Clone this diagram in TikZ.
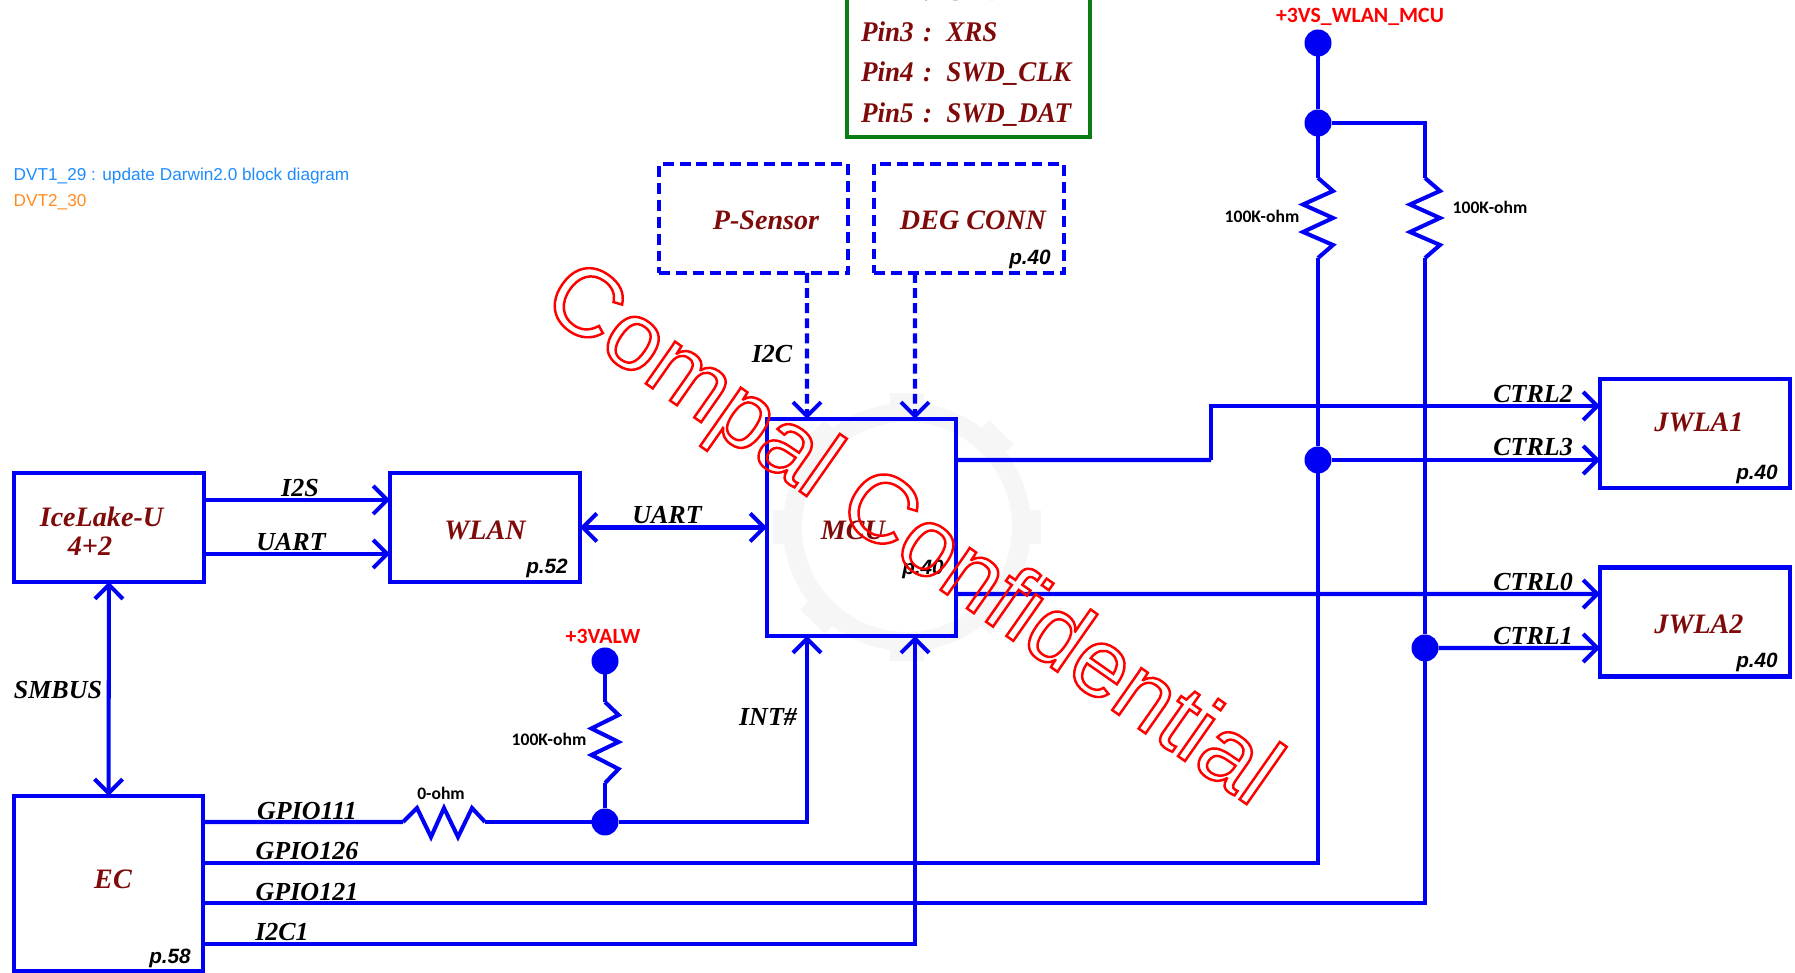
\documentclass[tikz,border=0pt]{standalone}
\usepackage{fontspec}
\usepackage{xcolor}
\usepackage{tikz}
\usetikzlibrary{arrows.meta,positioning,calc}
\setmainfont{Liberation Serif}
\setsansfont{Liberation Sans}
\newfontfamily\ohmfont{Carlito}
\newfontfamily\pinfont{Liberation Serif}[FakeStretch=0.95]
\definecolor{wireblue}{HTML}{0000F5}
\definecolor{namered}{HTML}{7F0A0A}
\definecolor{pingreen}{HTML}{0A7D14}
\definecolor{gearwash}{HTML}{F6F6F6}
\definecolor{noteblue}{HTML}{1E8CFF}
\definecolor{noteorange}{HTML}{FF8C1E}
\newcommand{\hollowtext}[1]{\special{pdf:literal direct q 1 Tr 0.7 w 1 0 0 RG}#1\special{pdf:literal direct Q}}

\begin{document}
\begin{tikzpicture}[
  block/.style={draw=wireblue, line width=1.15pt, inner sep=0pt, outer sep=0pt},
  dashblock/.style={block, dash pattern=on 3.1pt off 1.7pt},
  blockname/.style={font=\rmfamily\bfseries\itshape\fontsize{8}{10}\selectfont, text=namered},
  siglabel/.style={font=\rmfamily\bfseries\itshape\fontsize{7.4}{9}\selectfont, text=black},
  pagetag/.style={font=\sffamily\bfseries\itshape\fontsize{5.9}{7}\selectfont, text=black},
  ohmlabel/.style={font=\ohmfont\bfseries\fontsize{5}{6}\selectfont, text=black},
  powerlabel/.style={font=\ohmfont\bfseries\fontsize{6.2}{7}\selectfont, text=red},
  notelabel/.style={font=\sffamily\fontsize{4.9}{6}\selectfont, anchor=west, inner sep=0pt},
  dotnode/.style={circle, fill=wireblue, minimum size=0.27cm, inner sep=0pt, outer sep=0pt},
  wire/.style={draw=wireblue, line width=1.15pt},
  sigarrow/.style={wire, -{Straight Barb[length=1.4mm,width=2.8mm]}},
  sigboth/.style={wire, {Straight Barb[length=1.4mm,width=2.8mm]}-{Straight Barb[length=1.4mm,width=2.8mm]}},
  dasharrow/.style={sigarrow, dash pattern=on 2.8pt off 1.5pt}
]
\useasboundingbox (0,0) rectangle (17.95,9.73);
\clip (0,0) rectangle (17.95,9.73);
% Gear behind the MCU
\fill[gearwash, even odd rule] (9.07,4.46) circle (1.24) (9.07,4.46) circle (1.05);
\foreach \a in {0,45,...,315} {
  \fill[gearwash, rotate around={\a:(9.07,4.46)}] (10.25,4.29) rectangle (10.41,4.63);
}
% Blocks
\node[block, minimum width=1.90cm, minimum height=1.09cm] (ice) at (1.09,4.455) {};
\node[block, minimum width=1.90cm, minimum height=1.09cm] (wlan) at (4.85,4.455) {};
\node[block, minimum width=1.89cm, minimum height=2.17cm] (mcu) at (8.615,4.455) {};
\node[block, minimum width=1.89cm, minimum height=1.75cm] (ec) at (1.085,0.895) {};
\node[dashblock, minimum width=1.89cm, minimum height=1.09cm] (psens) at (7.535,7.545) {};
\node[dashblock, minimum width=1.90cm, minimum height=1.09cm] (deg) at (9.69,7.545) {};
\node[block, minimum width=1.90cm, minimum height=1.09cm] (jwa) at (16.95,5.395) {};
\node[block, minimum width=1.90cm, minimum height=1.09cm] (jwb) at (16.95,3.51) {};
\node[draw=pingreen, line width=1.15pt, anchor=south west, align=left, text width=2.15cm,
  inner xsep=0.14cm, inner ysep=0.11cm, outer sep=0pt,
  font=\pinfont\bfseries\itshape\fontsize{8.1}{11.5}\selectfont, text=namered] (pins) at (8.47,8.36)
  {Pin2 : GND\\Pin3 : XRS\\Pin4 : SWD\_CLK\\Pin5 : SWD\_DAT};
% Junction dots
\node[dotnode] (vcc) at (13.18,9.30) {};
\node[dotnode] (branch) at (13.18,8.50) {};
\node[dotnode] (ctrlj) at (13.18,5.13) {};
\node[dotnode] (gpioj) at (14.25,3.25) {};
\node[dotnode] (valw) at (6.05,3.12) {};
\node[dotnode] (intj) at (6.05,1.51) {};
\coordinate (resatop) at (13.18,7.95);
\coordinate (resabot) at (13.18,7.15);
\coordinate (resbtop) at (14.25,7.95);
\coordinate (resbbot) at (14.25,7.15);
\coordinate (resctop) at (6.05,2.71);
\coordinate (rescbot) at (6.05,1.90);
\coordinate (resdl) at (4.03,1.51);
\coordinate (resdr) at (4.85,1.51);
\coordinate (stepup) at (12.11,5.13);
% Pull-ups and series resistor
\foreach \top/\bot in {resatop/resabot,resbtop/resbbot} {
  \draw[wire] (\top) -- ++(0.15,-0.13) -- ++(-0.30,-0.135) -- ++(0.30,-0.135)
    -- ++(-0.30,-0.14) -- ++(0.30,-0.13) -- (\bot);
}
\draw[wire] (resctop) -- ++(0.136,-0.13) -- ++(-0.272,-0.135) -- ++(0.272,-0.135)
  -- ++(-0.272,-0.13) -- ++(0.272,-0.14) -- (rescbot);
\draw[wire] (resdl) -- ++(0.14,0.14) -- ++(0.14,-0.29) -- ++(0.13,0.29)
  -- ++(0.14,-0.29) -- ++(0.14,0.29) -- (resdr);
% Connectors
\draw[sigarrow] ([yshift=2.75mm]ice.east) -- ([yshift=2.75mm]wlan.west);
\draw[sigarrow] ([yshift=-2.65mm]ice.east) -- ([yshift=-2.65mm]wlan.west);
\draw[sigboth] (wlan.east) -- (mcu.west);
\draw[sigboth] (ice.south) -- (ec.north);
\draw[dasharrow] ([xshift=5.35mm]psens.south) -- ([xshift=-5.45mm]mcu.north);
\draw[dasharrow] ([xshift=-5.40mm]deg.south) -- ([xshift=5.35mm]mcu.north);
\draw[wire] (vcc) -- (branch) -- (resatop);
\draw[wire] (resabot) -- (ctrlj);
\draw[wire] (branch) -| (resbtop);
\draw[wire] (resbbot) -- (gpioj);
\draw[wire] (valw) -- (resctop);
\draw[wire] (rescbot) -- (intj);
\draw[wire] ([yshift=6.15mm]ec.east) -- (resdl);
\draw[wire] (resdr) -- (intj);
\draw[sigarrow] (intj) -| ([xshift=-5.45mm]mcu.south);
\draw[wire] ([yshift=2.05mm]ec.east) -| (ctrlj);
\draw[wire] ([yshift=-1.95mm]ec.east) -| (gpioj);
\draw[sigarrow] ([yshift=-6.05mm]ec.east) -| ([xshift=5.35mm]mcu.south);
\draw[wire] ([yshift=6.75mm]mcu.east) -- (stepup);
\draw[sigarrow] (stepup) |- ([yshift=2.75mm]jwa.west);
\draw[sigarrow] (ctrlj) -- ([yshift=-2.65mm]jwa.west);
\draw[sigarrow] ([yshift=-6.65mm]mcu.east) -- ([yshift=2.8mm]jwb.west);
\draw[sigarrow] (gpioj) -- ([yshift=-2.6mm]jwb.west);
% Block names
\node[blockname] (icename) at (1.015,4.56) {IceLake-U};
\node[blockname] (icecore) at (0.90,4.27) {4+2};
\node[blockname] (wlanname) at (4.85,4.43) {WLAN};
\node[blockname] (mcuname) at (8.53,4.43) {MCU};
\node[blockname] (ecname) at (1.13,0.94) {EC};
\node[blockname] (psensname) at (7.66,7.53) {P-Sensor};
\node[blockname] (degname) at (9.73,7.53) {DEG CONN};
\node[blockname] (jwaname) at (16.99,5.51) {JWLA1};
\node[blockname] (jwbname) at (16.99,3.49) {JWLA2};
% Page tags
\node[pagetag] (wlanpage) at (5.47,4.05) {p.52};
\node[pagetag] (mcupage) at (9.23,4.04) {p.40};
\node[pagetag] (ecpage) at (1.70,0.15) {p.58};
\node[pagetag] (degpage) at (10.30,7.14) {p.40};
\node[pagetag] (jwapage) at (17.57,4.99) {p.40};
\node[pagetag] (jwbpage) at (17.57,3.11) {p.40};
% Signal names
\node[siglabel] (i2slabel) at (3.00,4.85) {I2S};
\node[siglabel] (uartlabel) at (2.91,4.31) {UART};
\node[siglabel] (mculabel) at (6.67,4.58) {UART};
\node[siglabel] (i2clabel) at (7.72,6.19) {I2C};
\node[siglabel] (smblabel) at (0.58,2.83) {SMBUS};
\node[siglabel] (intlabel) at (7.68,2.56) {INT\#};
\node[siglabel] (gpioa) at (3.07,1.62) {GPIO111};
\node[siglabel] (gpiob) at (3.07,1.22) {GPIO126};
\node[siglabel] (gpioc) at (3.07,0.81) {GPIO121};
\node[siglabel] (i2cone) at (2.82,0.41) {I2C1};
\node[siglabel] (ctrltwo) at (15.33,5.79) {CTRL2};
\node[siglabel] (ctrlthree) at (15.33,5.26) {CTRL3};
\node[siglabel] (ctrlzero) at (15.33,3.91) {CTRL0};
\node[siglabel] (ctrlone) at (15.33,3.37) {CTRL1};
% Values and rails
\node[ohmlabel] (ohma) at (12.62,7.57) {100K-ohm};
\node[ohmlabel] (ohmb) at (14.90,7.66) {100K-ohm};
\node[ohmlabel] (ohmc) at (5.49,2.34) {100K-ohm};
\node[ohmlabel] (ohmd) at (4.41,1.80) {0-ohm};
\node[powerlabel] (vcclabel) at (13.60,9.56) {+3VS\_WLAN\_MCU};
\node[powerlabel] (valwlabel) at (6.03,3.37) {+3VALW};
% Revision notes
\node[notelabel, text=noteblue] (notea) at (0.13,7.97) {DVT1\_29 : update Darwin2.0 block diagram};
\node[notelabel, text=noteorange] (noteb) at (0.13,7.71) {DVT2\_30};
% Watermark
\node[font=\sffamily\fontsize{27.5}{30}\selectfont, rotate=-35, inner sep=0pt] (stamp) at (9.10,4.35) {\hollowtext{Compal Confidential}};
\end{tikzpicture}
\end{document}
